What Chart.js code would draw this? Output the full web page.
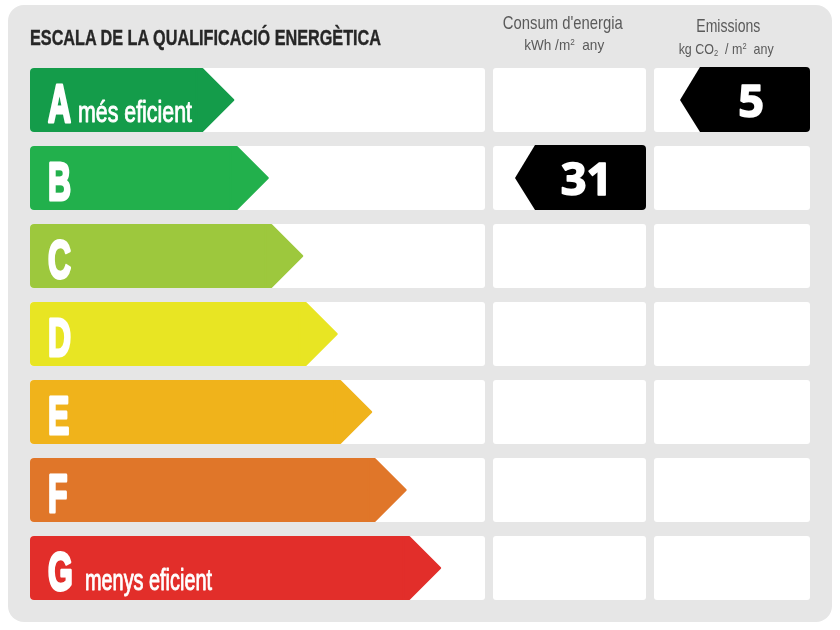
<!DOCTYPE html>
<html>
<head>
<meta charset="utf-8">
<script src="https://cdn.jsdelivr.net/npm/chart.js@4.4.1/dist/chart.umd.min.js"></script>
<style>
  html, body { margin: 0; padding: 0; background: #ffffff; }
  #wrap { position: relative; width: 840px; height: 630px; overflow: hidden; }
  #panel { position: absolute; left: 8px; top: 5px; width: 824px; height: 617px;
           background: #e6e6e6; border-radius: 16px; }
  #cbox { position: absolute; left: 0; top: 0; width: 840px; height: 630px; }
  .txt { position: absolute; white-space: pre; line-height: 1; display: inline-block; }
  #title { font-family: "Liberation Sans Narrow", "Liberation Sans", Arial, sans-serif;
           font-weight: bold; font-size: 22px; color: #262626; -webkit-text-stroke: 0.4px #262626; }
  .hdr { font-family: "Liberation Sans Narrow", "Liberation Sans", Arial, sans-serif;
         font-weight: normal; color: #5a5a5a; }
  .hdr sup { font-size: 60%; vertical-align: 0.55em; line-height: 0; }
  .hdr sub { font-size: 60%; vertical-align: -0.25em; line-height: 0; }
</style>
</head>
<body>
<div id="wrap">
  <div id="panel"></div>
  <div id="cbox"><canvas id="c"></canvas></div>
  <span id="title" class="txt">ESCALA DE LA QUALIFICACIÓ ENERGÈTICA</span>
  <span id="h1" class="txt hdr" style="font-size:19px">Consum d'energia</span>
  <span id="h2" class="txt hdr" style="font-size:15px">kWh /m<sup>2</sup>  any</span>
  <span id="h3" class="txt hdr" style="font-size:19px">Emissions</span>
  <span id="h4" class="txt hdr" style="font-size:15px">kg CO<sub>2</sub>  / m<sup>2</sup>  any</span>
</div>
<script>
// ---- data ----
const classes = ['A', 'B', 'C', 'D', 'E', 'F', 'G'];
const arrowLengths = [5, 6, 7, 8, 9, 10, 11];
const classNotes = ['més eficient', '', '', '', '', '', 'menys eficient'];
const consumValue = 31;
const consumClass = 'B';
const emissionsValue = 5;
const emissionsClass = 'A';

// ---- styles ----
const classColors = ['#149c4a', '#22b04c', '#9dc83d', '#e8e523', '#f0b31b', '#e07629', '#e22e2a'];
const xMax = 13.2;

// ---- header text fitting ----
function placeText(id, x, baseline, width, align) {
  const el = document.getElementById(id);
  const w = el.getBoundingClientRect().width;
  const fs = parseFloat(getComputedStyle(el).fontSize);
  const s = width / w;
  el.style.top = (baseline - fs * 0.9) + 'px';
  if (align === 'center') {
    el.style.left = (x - w / 2) + 'px';
    el.style.transformOrigin = '50% 50%';
  } else {
    el.style.left = x + 'px';
    el.style.transformOrigin = '0 50%';
  }
  el.style.transform = 'scaleX(' + s + ')';
}
placeText('title', 30, 47, 351, 'left');
placeText('h1', 563, 30, 120, 'center');
placeText('h2', 564, 50, 80, 'center');
placeText('h3', 728, 33, 64, 'center');
placeText('h4', 726, 54, 95, 'center');

function rrect(ctx, x, y, w, h, r) {
  ctx.beginPath();
  ctx.moveTo(x + r, y);
  ctx.lineTo(x + w - r, y);
  ctx.quadraticCurveTo(x + w, y, x + w, y + r);
  ctx.lineTo(x + w, y + h - r);
  ctx.quadraticCurveTo(x + w, y + h, x + w - r, y + h);
  ctx.lineTo(x + r, y + h);
  ctx.quadraticCurveTo(x, y + h, x, y + h - r);
  ctx.lineTo(x, y + r);
  ctx.quadraticCurveTo(x, y, x + r, y);
  ctx.closePath();
}

function fitText(ctx, text, x, baseline, font, width, color, strokeW) {
  ctx.save();
  ctx.font = font;
  const w = ctx.measureText(text).width;
  const s = width / w;
  ctx.translate(x, baseline);
  ctx.scale(s, 1);
  ctx.fillStyle = color;
  ctx.strokeStyle = color;
  ctx.lineWidth = strokeW || 0;
  ctx.lineJoin = 'round';
  ctx.textBaseline = 'alphabetic';
  ctx.textAlign = 'left';
  ctx.fillText(text, 0, 0);
  if (strokeW) ctx.strokeText(text, 0, 0);
  ctx.restore();
}

// columns to the right of the scale (offsets from chartArea.right)
const cols = [
  { off: 8, w: 153, tip: 22, tipLen: 20 },
  { off: 169, w: 156, tip: 26, tipLen: 20 }
];

const LETTER_FONT = 'bold 54px "Liberation Sans Narrow", "Liberation Sans", Arial, sans-serif';

const labelPlugin = {
  id: 'energyLabel',
  beforeDatasetsDraw(chart) {
    const ctx = chart.ctx;
    const area = chart.chartArea;
    const meta = chart.getDatasetMeta(0);
    ctx.save();
    ctx.fillStyle = '#ffffff';
    meta.data.forEach((bar) => {
      const top = bar.y - bar.height / 2;
      rrect(ctx, area.left, top, area.right - area.left, bar.height, 3);
      ctx.fill();
      cols.forEach((c) => {
        rrect(ctx, area.right + c.off, top, c.w, bar.height, 3);
        ctx.fill();
      });
    });
    ctx.restore();
  },
  afterDatasetsDraw(chart) {
    const ctx = chart.ctx;
    const area = chart.chartArea;
    const meta = chart.getDatasetMeta(0);
    const yScale = chart.scales.y;
    ctx.save();
    // arrow tips
    meta.data.forEach((bar, i) => {
      const h = bar.height;
      const top = bar.y - h / 2;
      ctx.fillStyle = classColors[i];
      ctx.strokeStyle = classColors[i];
      ctx.lineWidth = 2;
      ctx.lineJoin = 'round';
      ctx.beginPath();
      ctx.moveTo(bar.x - 6, top + 1);
      ctx.lineTo(bar.x, top + 1);
      ctx.lineTo(bar.x + h / 2 - 1, bar.y);
      ctx.lineTo(bar.x, top + h - 1);
      ctx.lineTo(bar.x - 6, top + h - 1);
      ctx.closePath();
      ctx.fill();
      ctx.stroke();
    });
    // letters
    ctx.font = LETTER_FONT;
    const letterScale = 23 / ctx.measureText('B').width;
    meta.data.forEach((bar, i) => {
      const top = bar.y - bar.height / 2;
      ctx.save();
      ctx.translate(bar.base + 18, top + 54);
      ctx.scale(letterScale, 1);
      ctx.font = LETTER_FONT;
      ctx.fillStyle = '#ffffff';
      ctx.strokeStyle = '#ffffff';
      ctx.lineWidth = 3.2;
      ctx.lineJoin = 'round';
      ctx.fillText(classes[i], 0, 0);
      ctx.strokeText(classes[i], 0, 0);
      ctx.restore();
      if (classNotes[i]) {
        const wNote = i === 0 ? 114 : 127;
        fitText(ctx, classNotes[i], bar.base + (i === 0 ? 48 : 55), top + 54,
                '29px "Liberation Sans Narrow", "Liberation Sans", Arial, sans-serif',
                wNote, '#ffffff', 0.9);
      }
    });
    // value markers
    const h = meta.data[0].height;
    const markers = [
      { col: cols[0], cls: consumClass, val: consumValue },
      { col: cols[1], cls: emissionsClass, val: emissionsValue }
    ];
    markers.forEach((m) => {
      const yc = yScale.getPixelForValue(classes.indexOf(m.cls));
      const top = yc - h / 2 - 1;
      const hh = h + 1;
      const left = area.right + m.col.off;
      const right = left + m.col.w;
      const tipX = left + m.col.tip;
      const r = 4;
      ctx.fillStyle = '#000000';
      ctx.beginPath();
      ctx.moveTo(tipX, yc);
      ctx.lineTo(tipX + m.col.tipLen, top);
      ctx.lineTo(right - r, top);
      ctx.quadraticCurveTo(right, top, right, top + r);
      ctx.lineTo(right, top + hh - r);
      ctx.quadraticCurveTo(right, top + hh, right - r, top + hh);
      ctx.lineTo(tipX + m.col.tipLen, top + hh);
      ctx.closePath();
      ctx.fill();
      ctx.fillStyle = '#ffffff';
      ctx.strokeStyle = '#ffffff';
      ctx.lineWidth = 1.6;
      ctx.lineJoin = 'round';
      ctx.font = 'bold 45px "Open Sans", "DejaVu Sans", sans-serif';
      ctx.textAlign = 'center';
      ctx.textBaseline = 'alphabetic';
      const cx = (tipX + m.col.tipLen + right) / 2 - 4;
      ctx.fillText(String(m.val), cx, yc + 17);
      ctx.strokeText(String(m.val), cx, yc + 17);
    });
    ctx.restore();
  }
};

new Chart(document.getElementById('c'), {
  type: 'bar',
  data: {
    labels: classes,
    datasets: [{
      label: 'Qualificació',
      data: arrowLengths,
      backgroundColor: classColors,
      borderWidth: 0,
      borderRadius: 4,
      borderSkipped: false,
      barPercentage: 64 / 78,
      categoryPercentage: 1.0
    }]
  },
  options: {
    indexAxis: 'y',
    responsive: true,
    maintainAspectRatio: false,
    animation: false,
    events: [],
    layout: { padding: { left: 30, right: 355, top: 61, bottom: 23 } },
    plugins: { legend: { display: false }, tooltip: { enabled: false }, title: { display: false } },
    scales: {
      x: { display: false, min: 0, max: xMax },
      y: { display: false }
    }
  },
  plugins: [labelPlugin]
});
</script>
</body>
</html>
